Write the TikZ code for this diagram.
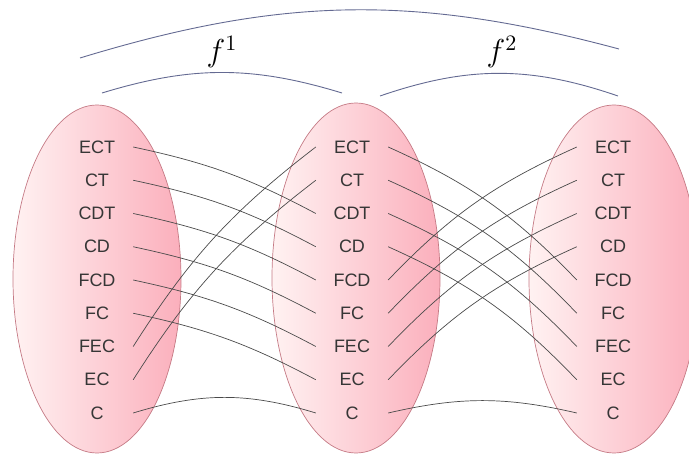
\documentclass[tikz,border=0pt]{standalone}
\usepackage{fontspec}
\setsansfont{Liberation Sans}
\usepackage{tikz}
\usetikzlibrary{shapes.geometric}
\definecolor{SetPink}{HTML}{FBAFBC}
\definecolor{SetMid}{HTML}{FDD3D8}
\definecolor{SetLight}{HTML}{FFF2F2}
\definecolor{SetEdge}{HTML}{C57A85}
\definecolor{ArcBlue}{HTML}{646A92}
\definecolor{Wire}{HTML}{4A4A4A}
\definecolor{Ink}{HTML}{363636}

\begin{document}
\begin{tikzpicture}[
  x=1pt,y=-1pt,
  set/.style={ellipse,draw=SetEdge,line width=0.7pt,left color=SetLight,middle color=SetMid,right color=SetPink,minimum width=168pt,minimum height=348pt,inner sep=0pt},
  lbl/.style={font=\sffamily\fontsize{18}{20}\selectfont,text=Ink,minimum width=72pt,minimum height=14pt,inner sep=0pt},
  wire/.style={draw=Wire,line width=0.7pt},
  brace/.style={draw=ArcBlue,line width=0.9pt},
  fname/.style={font=\Large,scale=2.2,inner sep=0pt}
]
\useasboundingbox (0,0) rectangle (689,454);
\clip (0,0) rectangle (689,454);
% the three sets
\node[set] (dom) at (97,279) {};
\node[set,minimum height=350pt] (mid) at (356,278) {};
\node[set,minimum width=170pt] (cod) at (614,279) {};
% elements
\foreach \t [count=\i] in {ECT,CT,CDT,CD,FCD,FC,FEC,EC,C} {
  \node[lbl] (l\i) at (97,{147+33.25*(\i-1)}) {\t};
  \node[lbl] (m\i) at (352,{147+33.25*(\i-1)}) {\t};
  \node[lbl] (r\i) at (613,{147+33.25*(\i-1)}) {\t};
}
% f^1
\foreach \a/\b in {1/3,2/4,3/5,4/6,5/7,6/8}
  \draw[wire] (l\a.east) to[bend left=8] (m\b.west);
\foreach \a/\b in {7/1,8/2}
  \draw[wire] (l\a.east) to[bend left=10] (m\b.west);
\draw[wire] (l9.east) to[bend left=17] (m9.west);
% f^2
\foreach \a/\b in {1/5,2/6,3/7,4/8,5/1,6/2,7/3,8/4}
  \draw[wire] (m\a.east) to[bend left=11] (r\b.west);
\draw[wire] (m9.east) to[bend left=13] (r9.west);
% arcs over the maps
\coordinate (top1) at (80,58);
\coordinate (top2) at (619,49);
\coordinate (one1) at (102,93);
\coordinate (one2) at (342,93);
\coordinate (two1) at (380,96);
\coordinate (two2) at (618,96);
\draw[brace] (top1) to[bend left=16] (top2);
\draw[brace] (one1) to[bend left=17] (one2);
\draw[brace] (two1) to[bend left=19] (two2);
\node[fname] (f1) at (222,52) {$f^{1}$};
\node[fname] (f2) at (502,52) {$f^{2}$};
\end{tikzpicture}
\end{document}
